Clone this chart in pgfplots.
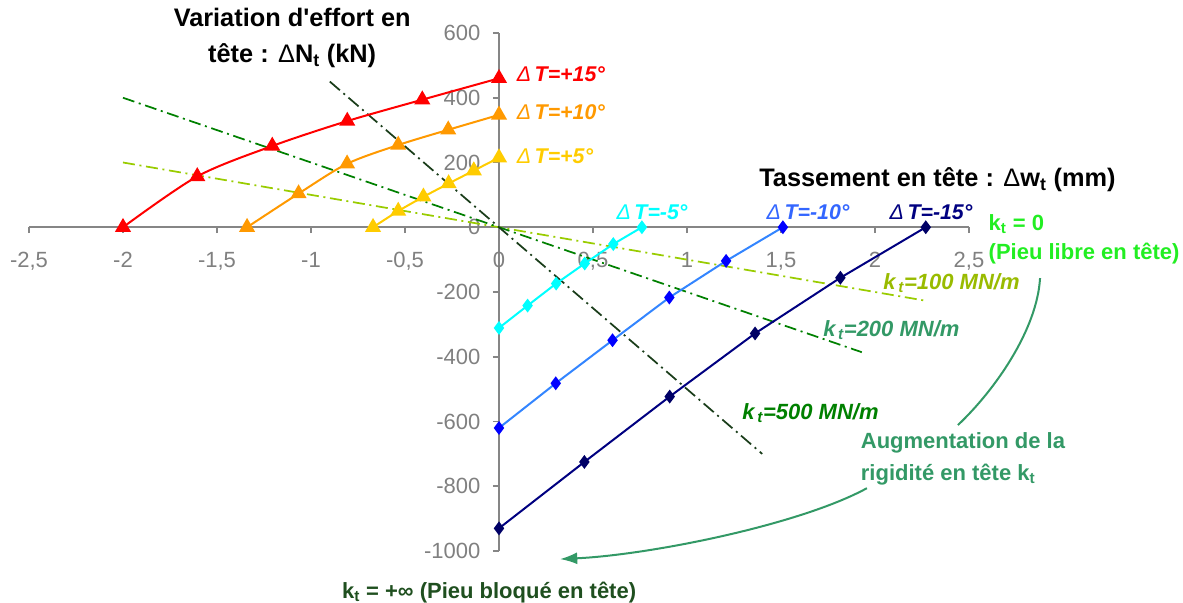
\documentclass[border=0pt]{standalone}
\usepackage{fontspec}
\setmainfont{Liberation Sans}
\usepackage{pgfplots}
\pgfplotsset{compat=1.18}
\usetikzlibrary{arrows.meta}
\definecolor{axgray}{HTML}{868686}
\definecolor{tickgray}{HTML}{808080}
\definecolor{cRed}{HTML}{FF0000}
\definecolor{cOrange}{HTML}{FF9900}
\definecolor{cGold}{HTML}{FFCC00}
\definecolor{cCyan}{HTML}{00FFFF}
\definecolor{cBlueL}{HTML}{3385FF}
\definecolor{cBlue}{HTML}{0000FF}
\definecolor{cBlueT}{HTML}{3366FF}
\definecolor{cNavy}{HTML}{000080}
\definecolor{cNavyM}{HTML}{000066}
\definecolor{kA}{HTML}{99CC00}
\definecolor{kAt}{HTML}{99BB00}
\definecolor{kB}{HTML}{008000}
\definecolor{kBt}{HTML}{339966}
\definecolor{kC}{HTML}{1A3D1A}
\definecolor{kCt}{HTML}{008000}
\definecolor{kZero}{HTML}{22EE22}
\definecolor{kInf}{HTML}{1F4F1F}
\definecolor{arr}{HTML}{339966}

\pgfplotstableread{
x y
-2 0
-1.605 157
-1.206 251
-0.807 328
-0.408 394
0 460
}\tRed
\pgfplotstableread{
x y
-1.34 0
-1.066 104
-0.808 196
-0.536 254
-0.27 301
0 347
}\tOrange
\pgfplotstableread{
x y
-0.67 0
-0.536 50
-0.402 94
-0.268 135
-0.134 175
0 215
}\tGold
\pgfplotstableread{
x y
0 -311
0.152 -242
0.304 -174
0.456 -112
0.608 -52
0.76 0
}\tCyan
\pgfplotstableread{
x y
0 -620
0.302 -482
0.604 -349
0.906 -217
1.208 -104
1.51 0
}\tBlue
\pgfplotstableread{
x y
0 -930
0.454 -725
0.908 -523
1.362 -328
1.816 -156
2.27 0
}\tNavy

\begin{document}
\begin{tikzpicture}
\useasboundingbox (-21.75pt,-39pt) rectangle (865.5pt,413.25pt);
\begin{axis}[
  at={(0,0)}, anchor=south west,
  scale only axis, width=705pt, height=388.5pt,
  xmin=-2.5, xmax=2.5, ymin=-1000, ymax=600,
  axis lines=middle,
  hide obscured x ticks=false,
  hide obscured y ticks=false,
  axis line style={draw=axgray, line width=1.5pt, -},
  xtick={-2.5,-2,...,2.5},
  ytick={-1000,-800,...,600},
  tick align=outside,
  major tick length=4.5pt,
  tick style={draw=axgray, line width=1.2pt},
  ticklabel style={font=\fontsize{16.5}{19}\selectfont, text=tickgray},
  xticklabel style={yshift=-11pt},
  yticklabel style={xshift=-6pt},
  /pgf/number format/use comma,
  /pgf/number format/1000 sep={},
  /pgf/number format/assume math mode=true,
  clip=false,
]
% stiffness lines
\addplot[kA, line width=1.3pt, dash pattern=on 9pt off 3.5pt on 1.5pt off 3.5pt] coordinates {(-2,200) (2.27,-227)};
\addplot[kB, line width=1.3pt, dash pattern=on 9pt off 3.5pt on 1.5pt off 3.5pt] coordinates {(-2,400) (1.93,-386)};
\addplot[kC, line width=1.3pt, dash pattern=on 10pt off 3.5pt on 1.5pt off 3.5pt] coordinates {(-0.9,450) (1.4,-700)};
% temperature curves
\addplot[cRed, line width=1.5pt, smooth, mark=triangle*, mark size=5.5pt, mark options={solid, fill=cRed}] table {\tRed};
\addplot[cOrange, line width=1.5pt, smooth, mark=triangle*, mark size=5.5pt, mark options={solid, fill=cOrange}] table {\tOrange};
\addplot[cGold, line width=1.5pt, smooth, mark=triangle*, mark size=5.5pt, mark options={solid, fill=cGold}] table {\tGold};
\addplot[cCyan, line width=1.5pt, mark=diamond*, mark size=4pt, mark options={solid, draw=cCyan, fill=cCyan}] table {\tCyan};
\addplot[cBlueL, line width=1.5pt, mark=diamond*, mark size=4pt, mark options={solid, draw=cBlue, fill=cBlue}] table {\tBlue};
\addplot[cNavy, line width=1.5pt, mark=diamond*, mark size=4pt, mark options={solid, draw=cNavyM, fill=cNavyM}] table {\tNavy};

% texts
\node[align=center, font=\fontsize{19}{27.5}\selectfont\bfseries] at (axis cs:-1.10,585) {Variation d\textquotesingle effort en\\tête : {\mdseries Δ}N\textsubscript{t} (kN)};
\node[anchor=west, font=\fontsize{19}{22}\selectfont\bfseries] at (axis cs:1.36,146) {Tassement en tête : {\mdseries Δ}w\textsubscript{t} (mm)};

\node[anchor=west, text=cRed, font=\fontsize{16}{19}\selectfont\bfseries\itshape] at (axis cs:0.07,473) {{\mdseries Δ}\,T=+15°};
\node[anchor=west, text=cOrange, font=\fontsize{16}{19}\selectfont\bfseries\itshape] at (axis cs:0.07,356) {{\mdseries Δ}\,T=+10°};
\node[anchor=west, text=cGold, font=\fontsize{16}{19}\selectfont\bfseries\itshape] at (axis cs:0.07,220) {{\mdseries Δ}\,T=+5°};
\node[text=cCyan, font=\fontsize{16}{19}\selectfont\bfseries\itshape] at (axis cs:0.814,47) {{\mdseries Δ}\,T=-5°};
\node[text=cBlueT, font=\fontsize{16}{19}\selectfont\bfseries\itshape] at (axis cs:1.644,47) {{\mdseries Δ}\,T=-10°};
\node[text=cNavy, font=\fontsize{16}{19}\selectfont\bfseries\itshape] at (axis cs:2.298,47) {{\mdseries Δ}\,T=-15°};

\node[anchor=west, text=kZero, font=\fontsize{16.5}{19}\selectfont\bfseries] at (axis cs:2.58,9) {k\textsubscript{t} = 0};
\node[anchor=west, text=kZero, font=\fontsize{16.5}{19}\selectfont\bfseries] at (axis cs:2.58,-80) {(Pieu libre en tête)};

\node[anchor=west, text=kAt, font=\fontsize{16.5}{19}\selectfont\bfseries\itshape] at (axis cs:2.02,-172) {k\textsubscript{\,t}=100 MN/m};
\node[anchor=west, text=kBt, font=\fontsize{16.5}{19}\selectfont\bfseries\itshape] at (axis cs:1.70,-317) {k\textsubscript{\,t}=200 MN/m};
\node[anchor=west, text=kCt, font=\fontsize{16.5}{19}\selectfont\bfseries\itshape] at (axis cs:1.27,-574) {k\textsubscript{\,t}=500 MN/m};

\node[anchor=west, align=left, text=arr, font=\fontsize{16.5}{23.5}\selectfont\bfseries] at (axis cs:1.90,-715) {Augmentation de la\\rigidité en tête k\textsubscript{t}};

\node[anchor=west, text=kInf, font=\fontsize{16.5}{19}\selectfont\bfseries] at (axis cs:-0.86,-1127) {k\textsubscript{t} = +∞ (Pieu bloqué en tête)};

% arrow
\draw[arr, line width=1.5pt] (axis cs:2.878,-157) .. controls (axis cs:2.862,-317) and (axis cs:2.638,-503) .. (axis cs:2.441,-611);
\draw[arr, line width=1.5pt, -{Latex[length=13pt, width=9pt]}] (axis cs:1.957,-806) .. controls (axis cs:1.601,-919) and (axis cs:0.803,-1012) .. (axis cs:0.324,-1025);
\end{axis}
\end{tikzpicture}
\end{document}
